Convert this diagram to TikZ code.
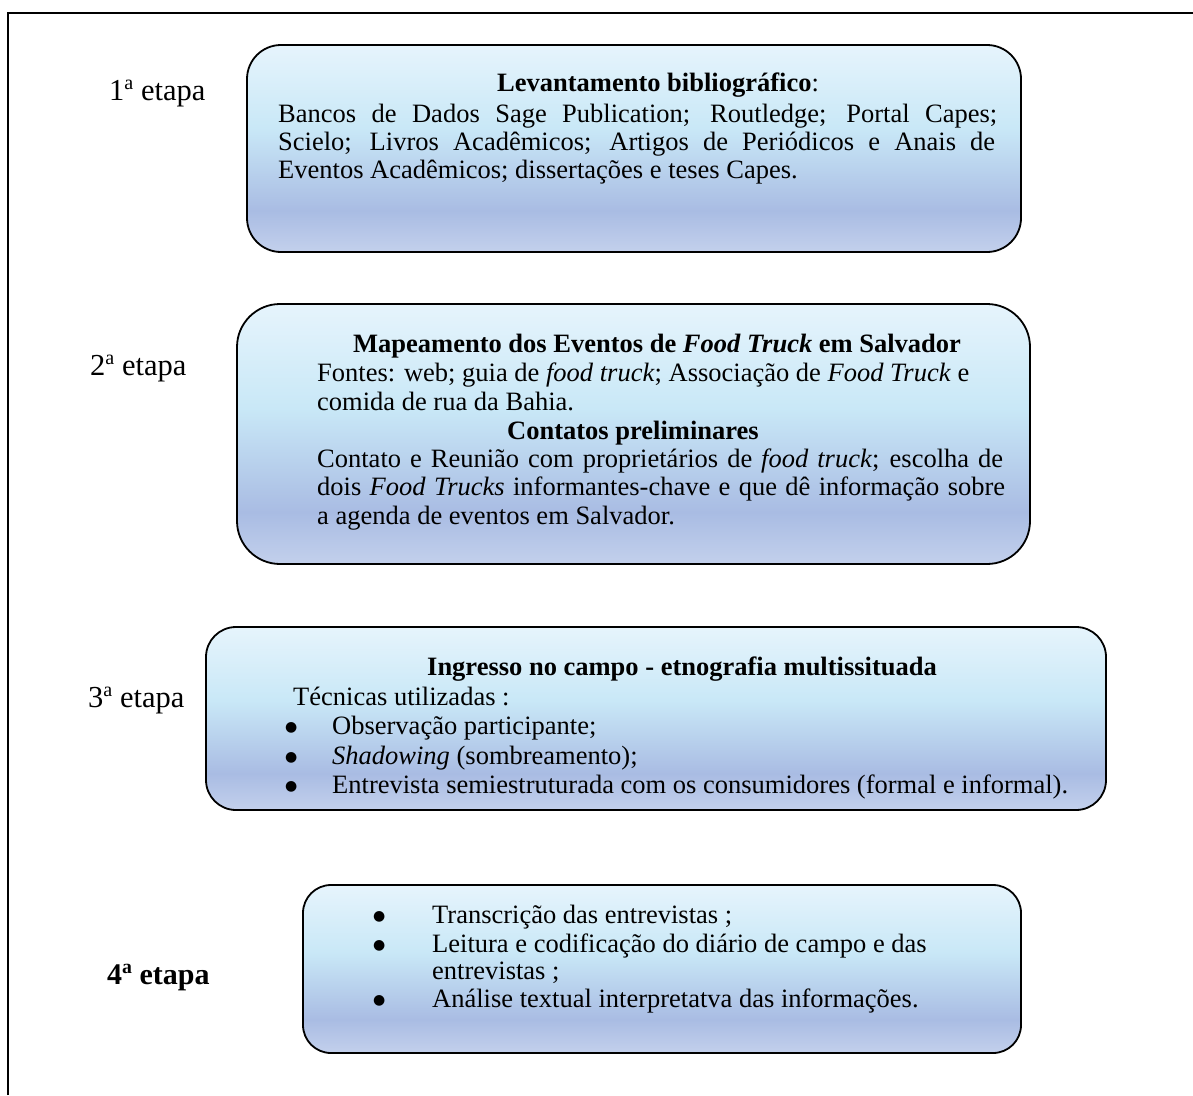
\documentclass[tikz,border=0pt]{standalone}
\usepackage{fontspec}
\setmainfont{Liberation Serif}
\newfontfamily\symfont{DejaVu Sans}
\definecolor{fillA}{HTML}{E6F4FC}
\definecolor{fillB}{HTML}{C9E8F7}
\definecolor{fillC}{HTML}{A9BCE3}
\definecolor{fillD}{HTML}{C3D0EC}
% vertical gradient: pale at the top, cyan, then lavender-blue, lighter again at the bottom
\pgfdeclareverticalshading{stagefill}{100bp}{%
  color(0bp)=(fillD); color(25bp)=(fillD); color(35bp)=(fillC);
  color(55bp)=(fillB); color(75bp)=(fillA); color(100bp)=(fillA)}
% ordinal indicator set as a raised, smaller letter
\newcommand\ordsup[1]{\raisebox{0.36em}{\fontsize{0.66em}{0.66em}\selectfont #1}}
\begin{document}
\begin{tikzpicture}[x=1pt,y=-1pt,
  stagebox/.style={draw=black,line width=1.8pt,shading=stagefill,
    rectangle,inner sep=0pt},
  txt/.style={anchor=base west,inner sep=0pt,
    font=\fontsize{26.5}{29}\selectfont},
  lbl/.style={anchor=base west,inner sep=0pt,
    font=\fontsize{30.5}{34}\selectfont},
  bul/.style={anchor=base west,inner sep=0pt,yshift=3pt,
    font=\symfont\fontsize{14}{14}\selectfont}]
\useasboundingbox (0,0) rectangle (1193,1095);

% outer frame (top and left sides)
\draw[line width=2.5pt] (8,1095) -- (8,13) -- (1193,13);

% stage boxes
\node[stagebox,minimum width=774pt,minimum height=207pt,rounded corners=34pt] (box1) at (634,148.5) {};
\node[stagebox,minimum width=793pt,minimum height=260pt,rounded corners=43pt] (box2) at (633.5,434) {};
\node[stagebox,minimum width=900pt,minimum height=183pt,rounded corners=30pt] (box3) at (656,718.5) {};
\node[stagebox,minimum width=718pt,minimum height=168pt,rounded corners=28pt] (box4) at (662,969) {};

% stage labels
\node[lbl] (lab1) at (109,100) {1\ordsup{a} etapa};
\node[lbl] (lab2) at (90,375) {2\ordsup{a} etapa};
\node[lbl] (lab3) at (88,707) {3\ordsup{a} etapa};
\node[lbl,font=\fontsize{30}{34}\selectfont\bfseries] (lab4) at (107,984) {4\ordsup{a} etapa};

% stage 1
\node[txt] (s1t) at (497,91) {\textbf{Levantamento bibliográfico}:};
\node[txt] (s1a) at (278,122) {\makebox[719pt][s]{Bancos de Dados Sage Publication; Routledge; Portal Capes;}};
\node[txt] (s1b) at (278,150) {\makebox[717pt][s]{Scielo; Livros Acadêmicos; Artigos de Periódicos e Anais de}};
\node[txt] (s1c) at (278,178) {Eventos Acadêmicos; dissertações e teses Capes.};

% stage 2
\node[txt] (s2t) at (353,352) {\textbf{Mapeamento dos Eventos de \textit{Food Truck} em Salvador}};
\node[txt] (s2a) at (317,381) {Fontes: web; guia de \textit{food truck}; Associação de \textit{Food Truck} e};
\node[txt] (s2b) at (317,410) {comida de rua da Bahia.};
\node[txt] (s2c) at (507,439) {\textbf{Contatos preliminares}};
\node[txt] (s2d) at (317,467) {\makebox[686pt][s]{Contato e Reunião com proprietários de \textit{food truck}; escolha de}};
\node[txt] (s2e) at (317,495) {\makebox[688pt][s]{dois \textit{Food Trucks} informantes-chave e que dê informação sobre}};
\node[txt] (s2f) at (317,524) {a agenda de eventos em Salvador.};

% stage 3
\node[txt] (s3t) at (427,675) {\textbf{Ingresso no campo - etnografia multissituada}};
\node[txt] (s3a) at (293,705) {Técnicas utilizadas :};
\node[bul] (s3b1) at (285,734) {●};
\node[txt] (s3b) at (332,734) {Observação participante;};
\node[bul] (s3c1) at (285,764) {●};
\node[txt] (s3c) at (332,764) {\textit{Shadowing} (sombreamento);};
\node[bul] (s3d1) at (285,793) {●};
\node[txt] (s3d) at (332,793) {Entrevista semiestruturada com os consumidores (formal e informal).};

% stage 4
\node[bul] (s4a1) at (373,923) {●};
\node[txt] (s4a) at (432,923) {Transcrição das entrevistas ;};
\node[bul] (s4b1) at (373,952) {●};
\node[txt] (s4b) at (432,952) {Leitura e codificação do diário de campo e das};
\node[txt] (s4c) at (432,979) {entrevistas ;};
\node[bul] (s4d1) at (373,1007) {●};
\node[txt] (s4d) at (432,1007) {Análise textual interpretatva das informações.};
\end{tikzpicture}
\end{document}
